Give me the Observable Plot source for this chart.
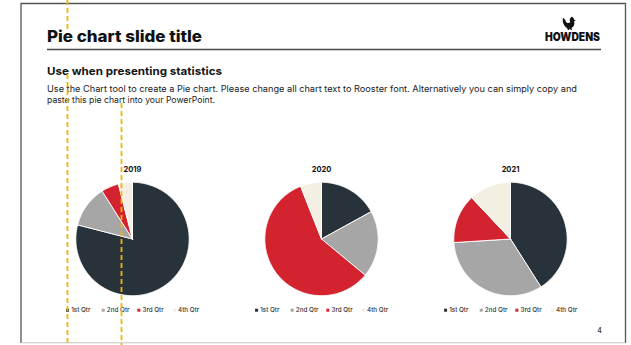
<!DOCTYPE html>
<html><head><meta charset="utf-8">
<script src="https://cdn.jsdelivr.net/npm/d3@7"></script>
<script src="https://cdn.jsdelivr.net/npm/@observablehq/plot@0.6"></script>
<style>
body{margin:0;background:#fff;}
#slide{position:relative;width:631px;height:345px;overflow:hidden;background:#fff;}
#slide > svg{position:absolute;left:0;top:0;}
#chart{position:absolute;left:0;top:0;}
text{font-family:Inter,"Noto Sans",sans-serif;}
#err{position:absolute;left:30px;top:120px;font:10px monospace;color:red;white-space:pre-wrap;width:560px;}
</style></head><body>
<div id="slide">
<svg id="chrome" width="631" height="345">
  <path d="M21,343 V3.5 H625.5 V343" fill="none" stroke="#555" stroke-width="1.3"/>
  <line x1="21" y1="342.8" x2="625.5" y2="342.8" stroke="#c4c4c4" stroke-width="1"/>
  <text x="47" y="42" font-size="16" font-weight="800" fill="#111" textLength="155" lengthAdjust="spacingAndGlyphs">Pie chart slide title</text>
  <line x1="47" y1="49.5" x2="601" y2="49.5" stroke="#4a4a4a" stroke-width="1.5"/>
  <text x="600" y="41" font-size="11.5" font-weight="900" fill="#111" text-anchor="end" textLength="55" lengthAdjust="spacingAndGlyphs">HOWDENS</text>
  <path d="M563,18 C562,22 564,26 567,28 L568,30 L569,30 L569.5,28.5 L571,30 L572,30 L571.5,28 C574,26.5 575,24 574,21.5 L575.8,20.6 L574,19.8 L574.2,18.6 L573.2,18.2 L573,16.8 L572,17.6 L571.2,16.6 L570.6,18 C569.5,18.8 569.5,20.5 570.3,22.3 C569,23.5 567,23.5 565.8,21.5 C565.5,20 564.5,18.6 563,18 Z" fill="#111"/>
  <text x="47" y="74.5" font-size="11" font-weight="700" fill="#151515" textLength="175" lengthAdjust="spacingAndGlyphs">Use when presenting statistics</text>
  <text x="47" y="92" font-size="8.4" font-weight="400" fill="#222" textLength="530" lengthAdjust="spacingAndGlyphs">Use the Chart tool to create a Pie chart. Please change all chart text to Rooster font. Alternatively you can simply copy and</text>
  <text x="47" y="103" font-size="8.4" font-weight="400" fill="#222" textLength="168" lengthAdjust="spacingAndGlyphs">paste this pie chart into your PowerPoint.</text>
  <text x="599.5" y="333" font-size="7" font-weight="500" fill="#333" text-anchor="middle">4</text>
</svg>
<div id="chart"></div>
<svg id="guides" width="631" height="345" style="pointer-events:none">
  <g stroke="#f5b400" stroke-width="1.8" stroke-dasharray="5 3" fill="none">
    <line x1="67.5" y1="0" x2="67.5" y2="31"/>
    <line x1="67.5" y1="74" x2="67.5" y2="345"/>
    <line x1="121.5" y1="103" x2="121.5" y2="345"/>
  </g>
</svg>
<div id="err"></div>
</div>
<script>
try {
// ---- data ----
const years = [2019, 2020, 2021];
const quarters = ["1st Qtr", "2nd Qtr", "3rd Qtr", "4th Qtr"];
const sales2019 = [79, 12, 5, 4];
const sales2020 = [17, 19, 58, 6];
const sales2021 = [41, 33, 14, 12];
const quarterColors = ["#27323a", "#a6a6a6", "#d2232f", "#f4efe3"];

// ---- slice outlines from d3.pie angles ----
const seriesByYear = {2019: sales2019, 2020: sales2020, 2021: sales2021};
const pie = d3.pie().sort(null).value(d => d);
const slicePts = [];
for (const year of years) {
  const arcs = pie(seriesByYear[year]);
  arcs.forEach((a, i) => {
    const key = year + "-" + i;
    const quarter = quarters[i];
    slicePts.push({year, key, quarter, x: 0, y: 0});
    const n = Math.max(2, Math.ceil((a.endAngle - a.startAngle) / (Math.PI / 180)));
    for (let k = 0; k <= n; k++) {
      const t = a.startAngle + (a.endAngle - a.startAngle) * k / n;
      slicePts.push({year, key, quarter, x: Math.sin(t), y: Math.cos(t)});
    }
    slicePts.push({year, key, quarter, x: 0, y: 0});
  });
}
const legendData = [];
for (const year of years) quarters.forEach((q, i) => legendData.push({year, quarter: q, i}));
const legendX = d => -1.146 + d.i * 0.629;
const legendY = -1.256;

const chart = Plot.plot({
  width: 631,
  height: 345,
  marginLeft: 28.5,
  marginRight: 16.6,
  marginTop: 153.45,
  marginBottom: 21.45,
  fx: {domain: years, paddingInner: 0.1, paddingOuter: 0.1, axis: null},
  x: {domain: [-1.5, 1.5], axis: null},
  y: {domain: [-1.5, 1.5], axis: null},
  color: {domain: quarters, range: quarterColors},
  style: {background: "transparent", overflow: "visible"},
  marks: [
    Plot.line(slicePts, {fx: "year", x: "x", y: "y", z: "key", fill: "quarter", stroke: "#fff", strokeWidth: 0.9}),
    Plot.text(years, {fx: d => d, x: 0, y: 1.225, text: d => String(d), fontWeight: 700, fontSize: 7.5, fill: "#111"}),
    Plot.dot(legendData, {fx: "year", x: legendX, y: legendY, symbol: "square", r: 1.7, fill: "quarter"}),
    Plot.text(legendData, {fx: "year", x: legendX, y: legendY, dx: 3.6, text: "quarter", textAnchor: "start", fontSize: 6.3, fontWeight: 500, fill: "#333"})
  ]
});
document.getElementById("chart").appendChild(chart);
} catch (e) {
  document.getElementById("err").textContent = "ERR: " + e.message;
}
</script>
</body></html>
